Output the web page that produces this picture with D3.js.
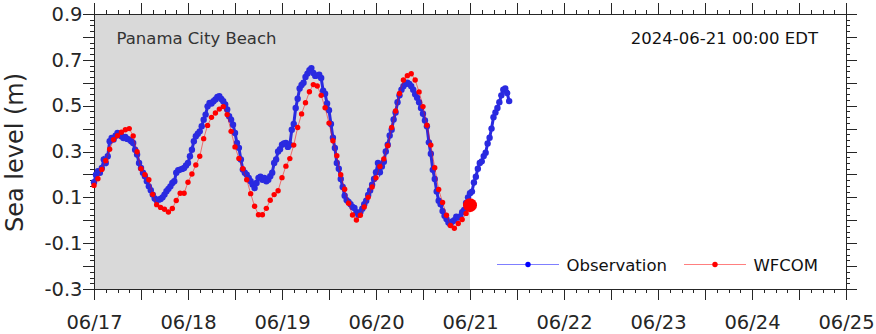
<!DOCTYPE html>
<html><head><meta charset="utf-8">
<script src="https://cdn.jsdelivr.net/npm/d3@7"></script>
<style>
html,body{margin:0;padding:0;background:#fff;}
svg{display:block;font-family:"DejaVu Sans",sans-serif;}
</style>
</head><body>
<svg id="chart" width="876" height="334"></svg>
<script>
// ---------------- data ----------------
const stationName = "Panama City Beach";
const stampLabel = "2024-06-21 00:00 EDT";
const seriesNames = ["Observation", "WFCOM"];
const yAxisTitle = "Sea level (m)";
const xDomain = ["2024-06-17T00:00:00Z", "2024-06-25T00:00:00Z"];
const hindcastEnd = "2024-06-21T00:00:00Z";
const yDomain = [-0.3, 0.9];
const yTickLabels = ["-0.3", "-0.1", "0.1", "0.3", "0.5", "0.7", "0.9"];
const xTickLabels = ["06/17","06/18","06/19","06/20","06/21","06/22","06/23","06/24","06/25"];

const obsStart = "2024-06-17T00:00:00Z";
const obsStepMinutes = 30;
const obsValues = [
  0.166,0.199,0.214,0.207,0.228,0.265,0.250,0.279,0.345,0.359,0.352,0.369,0.381,0.374,0.367,0.359,0.364,0.355,0.352,0.345,
  0.337,0.308,0.287,0.250,0.228,0.207,0.192,0.170,0.148,0.131,0.112,0.095,0.087,0.090,0.093,0.100,0.112,0.127,0.137,0.148,
  0.163,0.170,0.207,0.218,0.221,0.224,0.228,0.239,0.250,0.279,0.308,0.345,0.367,0.378,0.388,0.410,0.439,0.461,0.497,0.512,
  0.509,0.519,0.527,0.538,0.541,0.529,0.519,0.505,0.483,0.454,0.439,0.417,0.381,0.337,0.316,0.265,0.221,0.207,0.199,0.185,
  0.170,0.156,0.141,0.163,0.185,0.190,0.177,0.185,0.170,0.177,0.192,0.207,0.250,0.265,0.300,0.310,0.330,0.335,0.337,0.320,
  0.330,0.395,0.420,0.490,0.530,0.575,0.590,0.600,0.625,0.640,0.655,0.664,0.643,0.630,0.632,0.635,0.621,0.565,0.552,0.510,
  0.480,0.420,0.360,0.315,0.250,0.225,0.180,0.145,0.107,0.088,0.080,0.070,0.058,0.054,0.035,0.024,0.035,0.050,0.070,0.085,
  0.110,0.130,0.155,0.180,0.210,0.250,0.210,0.235,0.255,0.300,0.330,0.370,0.395,0.440,0.470,0.515,0.545,0.570,0.585,0.595,
  0.600,0.595,0.585,0.570,0.550,0.535,0.515,0.490,0.465,0.435,0.410,0.340,0.290,0.220,0.180,0.126,0.085,0.070,0.040,0.020,
  0.005,-0.010,-0.018,-0.005,0.000,0.015,0.012,0.017,0.035,0.045,0.075,0.100,0.118,0.125,0.165,0.190,0.225,0.250,0.257,0.280,
  0.295,0.335,0.360,0.400,0.450,0.470,0.490,0.515,0.545,0.570,0.575,0.555,0.520
];

const wfcomStart = "2024-06-17T00:00:00Z";
const wfcomStepMinutes = 60;
const wfcomValues = [
  0.152,0.181,0.222,0.260,0.310,0.352,0.369,0.384,0.395,0.400,0.368,0.299,0.225,0.199,0.177,0.113,0.068,0.056,0.048,0.036,
  0.051,0.086,0.118,0.118,0.166,0.202,0.241,0.279,0.356,0.414,0.449,0.468,0.485,0.496,0.461,0.388,0.320,0.270,0.225,0.177,
  0.116,0.061,0.024,0.024,0.052,0.087,0.112,0.129,0.186,0.236,0.269,0.328,0.405,0.464,0.513,0.561,0.592,0.586,0.545,0.491,
  0.424,0.347,0.282,0.199,0.135,0.074,0.023,0.001,0.022,0.058,0.100,0.145,0.185,0.235,0.268,0.325,0.405,0.477,0.553,0.612,
  0.631,0.639,0.612,0.560,0.496,0.415,0.328,0.229,0.134,0.078,0.022,-0.023,-0.035,-0.014,0.003,0.030,0.066
];

// ---------------- build ----------------
const toSeries = (start, stepMin, vals) => {
  const t0 = new Date(start).getTime();
  return vals.map((v, i) => ({ t: new Date(t0 + i * stepMin * 60000), v }));
};
const obs = toSeries(obsStart, obsStepMinutes, obsValues);
const wfcom = toSeries(wfcomStart, wfcomStepMinutes, wfcomValues);

const L = 94, R = 846, T = 14, B = 289;
const svg = d3.select("#chart");
const x = d3.scaleUtc().domain(xDomain.map(d => new Date(d))).range([L, R]);
const y = d3.scaleLinear().domain(yDomain).range([B, T]);
const [d0, d1] = x.domain();
const end1 = new Date(d1.getTime() + 1);

const textColor = "#262626";
const tickFont = "19.5px";

// background shading (hindcast period)
svg.append("rect")
  .attr("x", x(d0)).attr("y", T)
  .attr("width", x(new Date(hindcastEnd)) - x(d0)).attr("height", B - T)
  .attr("fill", "#d9d9d9");

// tick helpers
const h12 = d3.utcHour.every(12).range(d0, end1);
const h3 = d3.utcHour.every(3).range(d0, end1);
const days = d3.utcDay.range(d0, end1);
const yMajor = d3.range(0, 13).map(i => +(yDomain[0] + i * 0.1).toFixed(3));
const yMinor = d3.range(0, 49).map(i => +(yDomain[0] + i * 0.025).toFixed(4));
const yLab = yTickLabels.map(Number);

function tickAxis(gen, tr, vals, size) {
  const g = svg.append("g").attr("transform", tr)
    .call(gen.tickValues(vals).tickSize(size).tickFormat(""));
  g.select(".domain").remove();
  g.selectAll("line").attr("stroke", textColor).attr("shape-rendering", "crispEdges");
  return g;
}
// bottom
tickAxis(d3.axisBottom(x), `translate(0,${B})`, h3, 4);
tickAxis(d3.axisBottom(x), `translate(0,${B})`, h12, 11);
// top
tickAxis(d3.axisTop(x), `translate(0,${T})`, h3, 4);
tickAxis(d3.axisTop(x), `translate(0,${T})`, h12, 11);
// left
tickAxis(d3.axisLeft(y), `translate(${L},0)`, yMinor, 4);
tickAxis(d3.axisLeft(y), `translate(${L},0)`, yMajor, 11);
// right
tickAxis(d3.axisRight(y), `translate(${R},0)`, yMinor, 4);
tickAxis(d3.axisRight(y), `translate(${R},0)`, yMajor, 11);

// labels
const gx = svg.append("g").attr("transform", `translate(0,${B})`)
  .call(d3.axisBottom(x).tickValues(days).tickSize(0).tickPadding(26)
    .tickFormat((d, i) => xTickLabels[i]));
gx.select(".domain").remove();
gx.selectAll("text").attr("font-size", tickFont).attr("fill", textColor)
  .attr("font-family", "DejaVu Sans");

const gy = svg.append("g").attr("transform", `translate(${L},0)`)
  .call(d3.axisLeft(y).tickValues(yLab).tickSize(0).tickPadding(11.5)
    .tickFormat((d, i) => yTickLabels[i]));
gy.select(".domain").remove();
gy.selectAll("text").attr("font-size", tickFont).attr("fill", textColor)
  .attr("font-family", "DejaVu Sans");

// frame
svg.append("rect").attr("x", L + 0.5).attr("y", T + 0.5)
  .attr("width", R - L).attr("height", B - T)
  .attr("fill", "none").attr("stroke", textColor).attr("shape-rendering", "crispEdges");

// y title
svg.append("text")
  .attr("transform", `translate(22.5,${(T + B) / 2 + 1}) rotate(-90)`)
  .attr("text-anchor", "middle").attr("font-size", "24px").attr("fill", textColor)
  .text(yAxisTitle);

// series
const line = d3.line().x(d => x(d.t)).y(d => y(d.v));
const obsColor = "#2a2ae0";
svg.append("path").datum(obs).attr("d", line)
  .attr("fill", "none").attr("stroke", obsColor).attr("stroke-width", 3);
svg.append("g").selectAll("circle").data(obs).join("circle")
  .attr("cx", d => x(d.t)).attr("cy", d => y(d.v)).attr("r", 3.2).attr("fill", obsColor);

svg.append("path").datum(wfcom).attr("d", line)
  .attr("fill", "none").attr("stroke", "#ff0000").attr("stroke-opacity", 0.5).attr("stroke-width", 1);
svg.append("g").selectAll("circle").data(wfcom).join("circle")
  .attr("cx", d => x(d.t)).attr("cy", d => y(d.v)).attr("r", 2.7).attr("fill", "#ff0000");

// now marker
const last = wfcom.find(d => d.t.getTime() === new Date(hindcastEnd).getTime());
svg.append("circle").attr("cx", x(last.t)).attr("cy", y(last.v)).attr("r", 7).attr("fill", "#ff0000");

// station & time labels
svg.append("text").attr("x", 116.5).attr("y", 44.3).attr("font-size", "16.5px")
  .attr("fill", "#333").text(stationName);
svg.append("text").attr("x", 818).attr("y", 44.3).attr("text-anchor", "end")
  .attr("font-size", "16.5px").attr("fill", "#111").text(stampLabel);

// legend
const legend = [
  { name: seriesNames[0], x0: 497, line: "#0000ff", dot: "#0000ff" },
  { name: seriesNames[1], x0: 684, line: "#ff0000", dot: "#ff0000" }
];
const lg = svg.append("g");
legend.forEach(it => {
  lg.append("line").attr("x1", it.x0).attr("x2", it.x0 + 62).attr("y1", 264.5).attr("y2", 264.5)
    .attr("stroke", it.line).attr("stroke-opacity", 0.5).attr("stroke-width", 1);
  lg.append("circle").attr("cx", it.x0 + 31).attr("cy", 264.5).attr("r", 2.7).attr("fill", it.dot);
  lg.append("text").attr("x", it.x0 + 69.5).attr("y", 270.5).attr("font-size", "16.5px")
    .attr("fill", "#111").text(it.name);
});
</script>
</body></html>
